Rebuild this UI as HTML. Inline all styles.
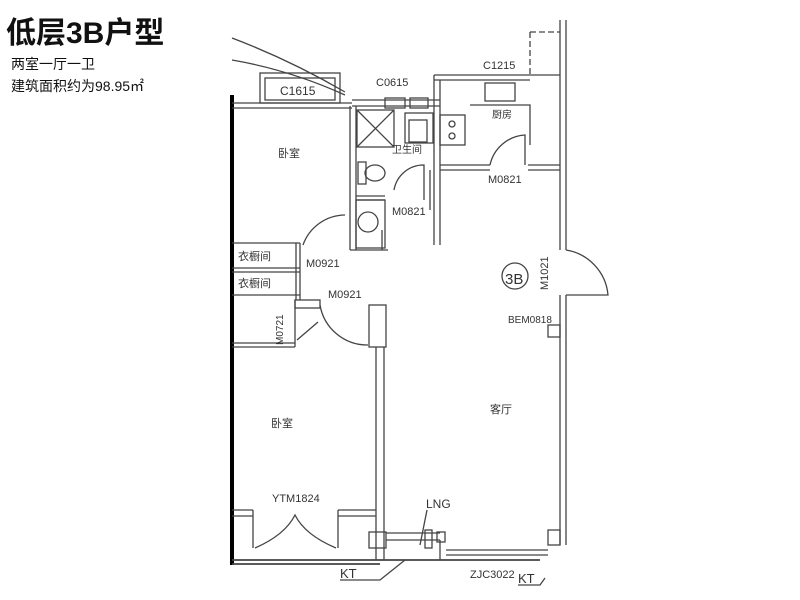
<!DOCTYPE html>
<html><head><meta charset="utf-8"><style>
html,body{margin:0;padding:0;background:#fff;}
#c{position:relative;width:800px;height:600px;overflow:hidden;background:#fff;font-family:"Liberation Sans","Noto Sans CJK SC",sans-serif;}
.t{position:absolute;color:#111;white-space:nowrap;}
svg{position:absolute;left:0;top:0;}
svg text{font-family:"Liberation Sans","Noto Sans CJK SC",sans-serif;fill:#333;}
</style></head><body><div id="c">
<div class="t" style="left:6px;top:8px;font-size:30px;font-weight:bold;letter-spacing:0px;">低层3B户型</div>
<div class="t" style="left:11px;top:54px;font-size:14px;">两室一厅一卫</div>
<div class="t" style="left:11px;top:76px;font-size:14px;">建筑面积约为98.95㎡</div>
<svg width="800" height="600" viewBox="0 0 800 600" fill="none" stroke="#444" stroke-width="1.3">
<path d="M232 38 Q290 60 345 92 M232 60 Q290 70 345 95"/>
<path d="M232 95 V565" stroke="#000" stroke-width="4"/>
<path d="M232 103 H352 M232 108 H352"/>
<rect x="260" y="73" width="80" height="30"/><rect x="265" y="78" width="70" height="22"/>
<text x="280" y="95" font-size="12" stroke="none">C1615</text>
<path d="M352 100 H440 M352 106 H440"/>
<rect x="385" y="98" width="20" height="10"/><rect x="410" y="98" width="18" height="10"/>
<text x="376" y="86" font-size="11" stroke="none">C0615</text>
<path d="M350 106 V250 M356 106 V250 M350 250 H388 M382 250 V230 M356 200 H385 M356 196 H385"/>
<rect x="357" y="110" width="37" height="37"/><path d="M357 110 L394 147 M394 110 L357 147"/>
<rect x="405" y="113" width="28" height="30"/><rect x="409" y="120" width="18" height="22"/>
<ellipse cx="375" cy="173" rx="10" ry="8"/><rect x="358" y="162" width="8" height="22"/>
<circle cx="368" cy="222" r="10"/><rect x="356" y="200" width="29" height="48"/>
<text x="392" y="153" font-size="10" stroke="none">卫生间</text>
<path d="M430 170 V210 M434 110 V245 M440 110 V245"/>
<path d="M394 190 A30 30 0 0 1 424 165 V200"/>
<text x="392" y="215" font-size="11" stroke="none">M0821</text>
<path d="M434 75 H560 M434 80 H530 M440 165 H490 M440 170 H490 M528 165 H560 M528 170 H560"/>
<path d="M434 75 V110 M440 80 V110"/>
<rect x="440" y="115" width="25" height="30"/><circle cx="452" cy="124" r="3"/><circle cx="452" cy="136" r="3"/>
<rect x="485" y="83" width="30" height="18"/>
<path d="M470 105 H530 V145"/>
<path d="M490 165 A38 38 0 0 1 525 135 V165"/>
<text x="492" y="118" font-size="10" stroke="none">厨房</text>
<text x="488" y="183" font-size="11" stroke="none">M0821</text>
<text x="483" y="69" font-size="11" stroke="none">C1215</text>
<path d="M530 32 V75 M530 32 H560" stroke-dasharray="6 3"/>
<path d="M560 20 V250 M566 20 V250 M560 295 V545 M566 295 V545"/>
<path d="M566 250 A50 50 0 0 1 608 295 L566 295"/>
<text x="548" y="290" font-size="11" stroke="none" transform="rotate(-90 548 290)">M1021</text>
<circle cx="515" cy="276" r="13"/><text x="505" y="284" font-size="15" stroke="none">3B</text>
<text x="508" y="323" font-size="10" stroke="none">BEM0818</text>
<rect x="548" y="325" width="12" height="12"/><rect x="548" y="530" width="12" height="15"/>
<text x="278" y="157" font-size="11" stroke="none">卧室</text>
<path d="M232 243 H300 M232 268 H300 M232 272 H300 M232 295 H300 M300 243 V300 M296 243 V300"/>
<text x="238" y="260" font-size="11" stroke="none">衣橱间</text>
<text x="238" y="287" font-size="11" stroke="none">衣橱间</text>
<path d="M303 245 A45 45 0 0 1 345 215"/>
<text x="306" y="267" font-size="11" stroke="none">M0921</text>
<text x="328" y="298" font-size="11" stroke="none">M0921</text>
<path d="M232 343 H295 M232 347 H295 M295 300 V347"/>
<text x="283" y="345" font-size="10" stroke="none" transform="rotate(-90 283 345)">M0721</text>
<path d="M297 340 L318 322 M320 305 A48 48 0 0 0 368 345"/>
<rect x="295" y="300" width="25" height="8"/>
<rect x="369" y="305" width="17" height="42"/>
<path d="M376 347 V560 M384 347 V560"/>
<text x="271" y="427" font-size="11" stroke="none">卧室</text>
<text x="490" y="413" font-size="11" stroke="none">客厅</text>
<text x="272" y="502" font-size="11" stroke="none">YTM1824</text>
<path d="M232 510 H253 M232 516 H253 M253 510 V548 M338 510 V548 M338 510 H376 M338 516 H376"/>
<path d="M255 548 Q285 535 295 515 Q305 535 336 548"/>
<path d="M232 560 H540 M232 564 H380" stroke-width="1.8"/>
<rect x="369" y="532" width="17" height="16"/>
<path d="M386 533 H440 M386 540 H440"/>
<rect x="425" y="530" width="7" height="18"/><rect x="437" y="532" width="8" height="10"/>
<path d="M440 540 V560 M446 550 H548 M446 555 H548"/>
<text x="426" y="508" font-size="12" stroke="none">LNG</text>
<path d="M427 510 L420 545 M405 560 L380 580 H340"/>
<text x="340" y="578" font-size="13" stroke="none">KT</text>
<text x="470" y="578" font-size="11" stroke="none">ZJC3022</text>
<text x="518" y="583" font-size="13" stroke="none">KT</text>
<path d="M518 585 H540 L545 578"/>
</svg>
</div></body></html>
